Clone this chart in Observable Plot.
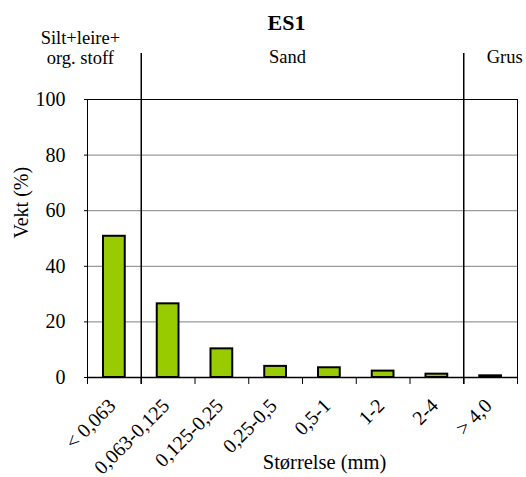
<!DOCTYPE html>
<html>
<head>
<meta charset="utf-8">
<script src="https://cdn.jsdelivr.net/npm/d3@7"></script>
<script src="https://cdn.jsdelivr.net/npm/@observablehq/plot@0.6"></script>
<style>
  html, body { margin: 0; padding: 0; background: #fff; }
  #chart svg, #chart svg text { font-family: "Liberation Serif", "Times New Roman", serif !important; }
</style>
</head>
<body>
<div id="chart"></div>
<script>
const categories = ["< 0,063", "0,063-0,125", "0,125-0,25", "0,25-0,5", "0,5-1", "1-2", "2-4", "> 4,0"];
const values = [50.8, 26.5, 10.3, 4.0, 3.5, 2.3, 1.2, 0.6];
const yTicks = [0, 20, 40, 60, 80, 100];
const title = "ES1";
const sectionLabels = ["Silt+leire+\norg. stoff", "Sand", "Grus"];
const sectionBounds = [1, 7]; // category index where a new section begins
const xLabel = "Størrelse (mm)";
const yLabel = "Vekt (%)";

const data = categories.map((c, i) => ({cat: c, i, value: values[i]}));
const n = categories.length;
const bounds = d3.range(n + 1);
const centers = categories.map((c, i) => i + 0.5);
const sectionStarts = [0, ...sectionBounds];
const sectionEnds = [...sectionBounds, n];
const sectionCenter = k => (sectionStarts[k] + sectionEnds[k]) / 2;

const font = "Liberation Serif";

const chart = Plot.plot({
  width: 526,
  height: 477,
  marginLeft: 87,
  marginRight: 9,
  marginTop: 99,
  marginBottom: 100,
  style: {fontFamily: font, background: "#fff", color: "#000"},
  x: {type: "linear", domain: [0, n]},
  y: {domain: [0, 100]},
  marks: [
    Plot.gridY(yTicks.slice(1, -1), {stroke: "#808080", strokeOpacity: 1, strokeWidth: 1}),
    Plot.ruleY([100], {stroke: "#000"}),
    Plot.ruleX([n], {stroke: "#000"}),
    Plot.rectY(data, {
      x1: "i", x2: d => d.i + 1, y: "value",
      insetLeft: 16, insetRight: 16,
      fill: "#99cc00", stroke: "#000", strokeWidth: 2
    }),
    Plot.ruleY([0], {stroke: "#000", strokeWidth: 1.5}),
    Plot.ruleX([0], {stroke: "#000"}),
    Plot.axisX(bounds, {tickSize: 7, tickFormat: () => "", label: null, stroke: "#000"}),
    Plot.ruleX(sectionBounds, {insetTop: -46, insetBottom: -7, stroke: "#000", strokeWidth: 1.5}),
    Plot.axisX(centers, {
      tickSize: 0, tickPadding: 25, tickRotate: -45,
      tickFormat: v => categories[Math.round(v - 0.5)],
      fontSize: 20, dx: -2, fontFamily: font,
      label: null
    }),
    Plot.axisY(yTicks, {
      tickSize: 3, tickPadding: 19, fontSize: 20, stroke: "#000", fontFamily: font,
      label: null
    }),
    Plot.text([yLabel], {
      frameAnchor: "left", rotate: -90, dx: -66, fontSize: 20, fill: "#000", fontFamily: font
    }),
    Plot.text([xLabel], {
      frameAnchor: "bottom", lineAnchor: "middle", dy: 85, dx: 22, fontSize: 20.5, fill: "#000", fontFamily: font
    }),
    Plot.text([title], {
      frameAnchor: "top", lineAnchor: "middle", dy: -77, dx: -16, fontSize: 22, fontWeight: "bold", fill: "#000", fontFamily: font
    }),
    Plot.text([sectionLabels[0]], {
      x: sectionCenter(0), frameAnchor: "top", lineAnchor: "middle", dy: -52, dx: -34, fontSize: 18.5, lineHeight: 1.1, fill: "#000", fontFamily: font
    }),
    Plot.text([sectionLabels[1]], {
      x: sectionCenter(1), frameAnchor: "top", lineAnchor: "middle", dy: -42, dx: -15, fontSize: 18.5, fill: "#000", fontFamily: font
    }),
    Plot.text([sectionLabels[2]], {
      x: sectionCenter(2), frameAnchor: "top", lineAnchor: "middle", dy: -42, dx: 14, fontSize: 18.5, fill: "#000", fontFamily: font
    })
  ]
});

document.getElementById("chart").appendChild(chart);
</script>
</body>
</html>
